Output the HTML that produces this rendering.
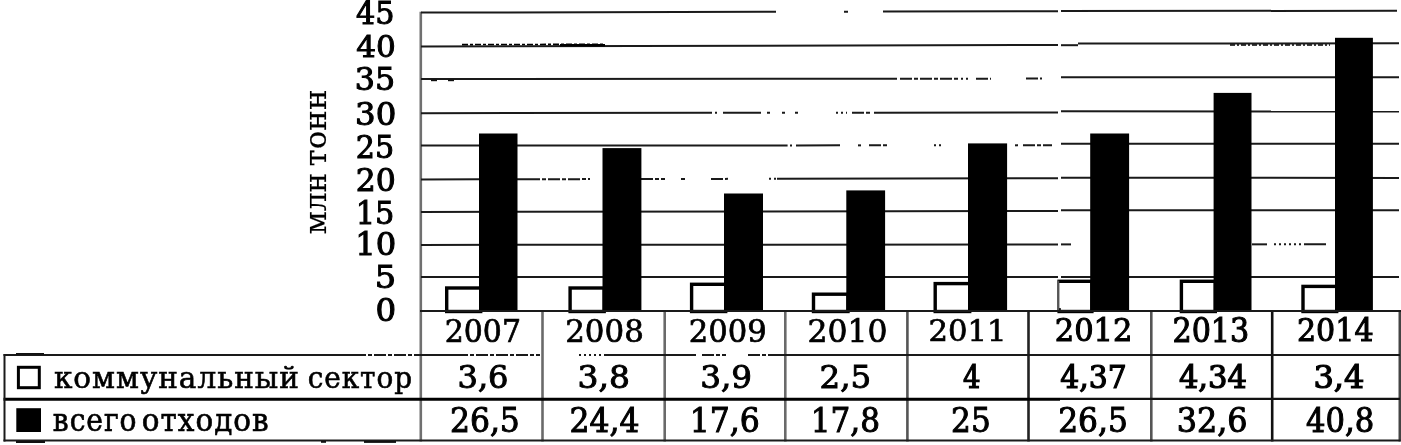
<!DOCTYPE html>
<html><head><meta charset="utf-8"><title>Отходы</title>
<style>
html,body{margin:0;padding:0;background:#fff;}
body{width:1401px;height:445px;overflow:hidden;}
svg{display:block;}
</style></head><body>
<svg width="1401" height="445" viewBox="0 0 1401 445">

<g fill="none" stroke-width="2.6">
<line x1="420.8" y1="11.8" x2="420.8" y2="441.5" stroke="#707070"/>
<line x1="542.5" y1="310" x2="542.5" y2="441.5" stroke="#6a6a6a"/>
<line x1="664.7" y1="310" x2="664.7" y2="441.5" stroke="#6a6a6a"/>
<line x1="785.3" y1="310" x2="785.3" y2="441.5" stroke="#6a6a6a"/>
<line x1="907.4" y1="310" x2="907.4" y2="441.5" stroke="#555"/>
<line x1="1028.5" y1="310" x2="1028.5" y2="441.5" stroke="#222"/>
<line x1="1151.3" y1="310" x2="1151.3" y2="441.5" stroke="#555"/>
<line x1="1272.2" y1="310" x2="1272.2" y2="441.5" stroke="#111"/>
<line x1="1399.8" y1="310" x2="1399.8" y2="441.5" stroke="#444"/>
</g>
<g fill="none">
<line x1="421" y1="12.60" x2="776" y2="11.82" stroke="#1a1a1a" stroke-width="2.0"/>
<line x1="844" y1="11.67" x2="848" y2="11.66" stroke="#1a1a1a" stroke-width="2.0"/>
<line x1="883" y1="11.58" x2="1058" y2="11.20" stroke="#1a1a1a" stroke-width="2.0"/>
<line x1="1061" y1="11.00" x2="1397" y2="10.80" stroke="#1a1a1a" stroke-width="2.0"/>
<line x1="421" y1="46.40" x2="1058" y2="45.00" stroke="#1a1a1a" stroke-width="2.0"/>
<line x1="1078" y1="43.61" x2="1399" y2="43.30" stroke="#1a1a1a" stroke-width="2.0"/>
<line x1="421" y1="79.00" x2="897" y2="78.70" stroke="#1a1a1a" stroke-width="2.0"/>
<line x1="900" y1="78.70" x2="959" y2="78.66" stroke="#1a1a1a" stroke-width="2.0" stroke-dasharray="12 2 4 2"/>
<line x1="961" y1="78.66" x2="968" y2="78.66" stroke="#1a1a1a" stroke-width="2.0" stroke-dasharray="2 3"/>
<line x1="976" y1="78.65" x2="991" y2="78.64" stroke="#1a1a1a" stroke-width="2.0" stroke-dasharray="12 2 4 2"/>
<line x1="1026" y1="78.62" x2="1042" y2="78.61" stroke="#1a1a1a" stroke-width="2.0" stroke-dasharray="12 2 4 2"/>
<line x1="1061" y1="77.30" x2="1399" y2="77.30" stroke="#1a1a1a" stroke-width="2.0"/>
<line x1="421" y1="113.20" x2="712" y2="112.83" stroke="#1a1a1a" stroke-width="2.0"/>
<line x1="715" y1="112.83" x2="717" y2="112.83" stroke="#1a1a1a" stroke-width="2.0"/>
<line x1="723" y1="112.82" x2="761" y2="112.77" stroke="#1a1a1a" stroke-width="2.0"/>
<line x1="767" y1="112.77" x2="770" y2="112.76" stroke="#1a1a1a" stroke-width="2.0"/>
<line x1="782" y1="112.75" x2="785" y2="112.74" stroke="#1a1a1a" stroke-width="2.0"/>
<line x1="795" y1="112.73" x2="798" y2="112.73" stroke="#1a1a1a" stroke-width="2.0"/>
<line x1="836" y1="112.68" x2="847" y2="112.66" stroke="#1a1a1a" stroke-width="2.0" stroke-dasharray="2 3"/>
<line x1="852" y1="112.66" x2="870" y2="112.64" stroke="#1a1a1a" stroke-width="2.0" stroke-dasharray="12 2 4 2"/>
<line x1="874" y1="112.63" x2="1058" y2="112.40" stroke="#1a1a1a" stroke-width="2.0"/>
<line x1="1061" y1="111.30" x2="1399" y2="111.50" stroke="#1a1a1a" stroke-width="2.0"/>
<line x1="421" y1="145.50" x2="787.6" y2="145.38" stroke="#1a1a1a" stroke-width="2.0"/>
<line x1="790" y1="145.38" x2="792" y2="145.38" stroke="#1a1a1a" stroke-width="2.0"/>
<line x1="796" y1="145.38" x2="840" y2="145.37" stroke="#1a1a1a" stroke-width="2.0"/>
<line x1="858" y1="145.36" x2="861" y2="145.36" stroke="#1a1a1a" stroke-width="2.0"/>
<line x1="869" y1="145.36" x2="888" y2="145.35" stroke="#1a1a1a" stroke-width="2.0" stroke-dasharray="12 2 4 2"/>
<line x1="934" y1="145.34" x2="942" y2="145.34" stroke="#1a1a1a" stroke-width="2.0" stroke-dasharray="2 3"/>
<line x1="1015" y1="145.31" x2="1018" y2="145.31" stroke="#1a1a1a" stroke-width="2.0"/>
<line x1="1023" y1="145.31" x2="1052" y2="145.30" stroke="#1a1a1a" stroke-width="2.0" stroke-dasharray="12 2 4 2"/>
<line x1="1061" y1="143.80" x2="1399" y2="143.70" stroke="#1a1a1a" stroke-width="2.0"/>
<line x1="421" y1="179.40" x2="479" y2="179.30" stroke="#1a1a1a" stroke-width="2.0"/>
<line x1="517" y1="179.23" x2="528" y2="179.22" stroke="#1a1a1a" stroke-width="2.0"/>
<line x1="528" y1="179.22" x2="590" y2="179.11" stroke="#1a1a1a" stroke-width="2.0" stroke-dasharray="12 2 4 2"/>
<line x1="641" y1="179.02" x2="665" y2="178.98" stroke="#1a1a1a" stroke-width="2.0" stroke-dasharray="12 2 4 2"/>
<line x1="681" y1="178.95" x2="685" y2="178.94" stroke="#1a1a1a" stroke-width="2.0"/>
<line x1="711" y1="178.90" x2="728" y2="178.87" stroke="#1a1a1a" stroke-width="2.0" stroke-dasharray="12 2 4 2"/>
<line x1="769" y1="178.80" x2="777" y2="178.79" stroke="#1a1a1a" stroke-width="2.0" stroke-dasharray="2 3"/>
<line x1="777" y1="178.79" x2="1058" y2="178.30" stroke="#1a1a1a" stroke-width="2.0"/>
<line x1="1061" y1="177.80" x2="1399" y2="177.90" stroke="#1a1a1a" stroke-width="2.0"/>
<line x1="421" y1="212.00" x2="1058" y2="211.00" stroke="#1a1a1a" stroke-width="2.0"/>
<line x1="1061" y1="210.30" x2="1399" y2="210.20" stroke="#1a1a1a" stroke-width="2.0"/>
<line x1="421" y1="244.90" x2="1058" y2="244.60" stroke="#1a1a1a" stroke-width="2.0"/>
<line x1="1061" y1="244.40" x2="1071" y2="244.40" stroke="#1a1a1a" stroke-width="2.0"/>
<line x1="1252" y1="244.34" x2="1267" y2="244.34" stroke="#1a1a1a" stroke-width="2.0"/>
<line x1="1274" y1="244.34" x2="1304" y2="244.33" stroke="#1a1a1a" stroke-width="2.0" stroke-dasharray="2 3"/>
<line x1="1304" y1="244.33" x2="1326" y2="244.32" stroke="#1a1a1a" stroke-width="2.0"/>
<line x1="421" y1="277.10" x2="1058" y2="277.00" stroke="#1a1a1a" stroke-width="2.0"/>
<line x1="1061" y1="277.00" x2="1399" y2="276.90" stroke="#1a1a1a" stroke-width="2.0"/>
<line x1="462" y1="44.6" x2="605" y2="44.3" stroke="#000" stroke-width="1.6" stroke-dasharray="6 2 3 2"/>
<line x1="560" y1="45.2" x2="605" y2="45.2" stroke="#000" stroke-width="2.6"/>
<line x1="1230" y1="45.0" x2="1330" y2="45.0" stroke="#000" stroke-width="1.4" stroke-dasharray="5 2 2 2"/>
<line x1="1061" y1="45.2" x2="1078" y2="45.2" stroke="#1a1a1a" stroke-width="2"/>
</g>
<g>
<rect x="446.7" y="288.0" width="34.0" height="23.5" fill="#fff" stroke="#000" stroke-width="3.4"/>
<rect x="479.0" y="133.5" width="38.5" height="178.0" fill="#000"/>
<rect x="570.1" y="288.0" width="34.1" height="23.5" fill="#fff" stroke="#000" stroke-width="3.4"/>
<rect x="602.5" y="148.1" width="38.9" height="163.4" fill="#000"/>
<rect x="691.6" y="284.3" width="34.1" height="27.2" fill="#fff" stroke="#000" stroke-width="3.4"/>
<rect x="724.0" y="193.5" width="39.0" height="118.0" fill="#000"/>
<rect x="813.5" y="294.2" width="34.5" height="17.3" fill="#fff" stroke="#000" stroke-width="3.4"/>
<rect x="846.3" y="190.4" width="38.8" height="121.1" fill="#000"/>
<rect x="935.2" y="283.6" width="34.5" height="27.9" fill="#fff" stroke="#000" stroke-width="3.4"/>
<rect x="968.0" y="143.4" width="39.1" height="168.1" fill="#000"/>
<rect x="1059.1" y="281.3" width="32.8" height="30.2" fill="#fff" stroke="#000" stroke-width="3.4"/>
<rect x="1059.2" y="283.0" width="2" height="25.1" fill="#fff"/>
<line x1="1058.3" y1="280.6" x2="1058.3" y2="311" stroke="#555" stroke-width="1.8"/>
<rect x="1090.2" y="133.5" width="38.9" height="178.0" fill="#000"/>
<rect x="1181.4" y="281.3" width="33.9" height="30.2" fill="#fff" stroke="#000" stroke-width="3.4"/>
<rect x="1213.6" y="92.9" width="37.9" height="218.6" fill="#000"/>
<rect x="1303.0" y="286.4" width="33.7" height="25.1" fill="#fff" stroke="#000" stroke-width="3.4"/>
<rect x="1335.0" y="37.8" width="37.9" height="273.7" fill="#000"/>
</g>
<g fill="none" stroke="#1a1a1a">
<line x1="420" y1="311" x2="1401" y2="311" stroke-width="2"/>
<line x1="3.5" y1="355" x2="354" y2="355" stroke-width="2"/>
<line x1="354" y1="355" x2="420" y2="355" stroke-width="2" stroke-dasharray="12 2 4 2"/>
<line x1="420" y1="355" x2="456" y2="355" stroke-width="2"/>
<line x1="456" y1="355" x2="540" y2="355" stroke-width="2" stroke-dasharray="12 2 4 2"/>
<line x1="579" y1="355" x2="605" y2="355" stroke-width="2" stroke-dasharray="2 3"/>
<line x1="605" y1="355" x2="696" y2="355" stroke-width="2"/>
<line x1="702" y1="355" x2="726" y2="355" stroke-width="2" stroke-dasharray="12 2 4 2"/>
<line x1="748" y1="355" x2="771" y2="355" stroke-width="2" stroke-dasharray="12 2 4 2"/>
<line x1="771" y1="355" x2="1400" y2="355" stroke-width="2"/>
<line x1="3.5" y1="399.3" x2="1060" y2="399.3" stroke-width="3" stroke="#000"/>
<line x1="1060" y1="398.8" x2="1400" y2="398.8" stroke-width="2.2" stroke="#111"/>
<line x1="3.5" y1="440.5" x2="1400.5" y2="440.5" stroke-width="2"/>
<line x1="4.5" y1="354" x2="4.5" y2="441.5" stroke-width="2"/>
</g>
<g fill="#111">
<rect x="16" y="441.0" width="29" height="2.0"/>
<rect x="16" y="353.0" width="28" height="1.4"/>
<rect x="321" y="441.0" width="5" height="1.8"/>
<rect x="364" y="441.0" width="32" height="1.9"/>
<rect x="431" y="79.6" width="6" height="1.6"/>
<rect x="448" y="79.6" width="6" height="1.6"/>
</g>
<rect x="18.4" y="367.3" width="20.9" height="20.4" fill="#fff" stroke="#000" stroke-width="3.0"/>
<rect x="16.3" y="408.2" width="24.7" height="23.8" fill="#000"/>
<g font-family='"DejaVu Serif Condensed","DejaVu Serif","Liberation Serif",serif' font-size="33" stroke="#000" stroke-width="1.0" fill="#000">
<text transform="matrix(1.0194 0 0 0.9320 356.10 24.30)">45</text>
<text transform="matrix(1.0472 0 0 0.9120 356.30 57.20)">40</text>
<text transform="matrix(1.0676 0 0 0.9440 354.86 90.30)">35</text>
<text transform="matrix(1.0912 0 0 0.9680 355.12 125.10)">30</text>
<text transform="matrix(1.0176 0 0 0.9720 355.86 158.00)">25</text>
<text transform="matrix(1.0618 0 0 0.9760 355.78 191.10)">20</text>
<text transform="matrix(1.0242 0 0 0.9440 355.63 224.10)">15</text>
<text transform="matrix(1.0848 0 0 0.9440 355.25 255.10)">10</text>
<text transform="matrix(1.1333 0 0 0.9400 374.73 287.90)">5</text>
<text transform="matrix(1.0938 0 0 0.9360 375.41 321.20)">0</text>
<text transform="matrix(1.0296 0 0 0.9760 1054.74 341.30)">2012</text>
<text transform="matrix(1.0167 0 0 0.9880 1172.47 341.60)">2013</text>
<text transform="matrix(1.0137 0 0 0.9760 1296.97 341.30)">2014</text>
</g>
<g font-family='"DejaVu Serif Condensed","DejaVu Serif","Liberation Serif",serif' font-size="33" stroke="#000" stroke-width="0.7" fill="#000">
<text transform="matrix(1.0083 0 0 0.9560 444.78 342.00)">2007</text>
<text transform="matrix(1.0403 0 0 0.9560 565.22 342.00)">2008</text>
<text transform="matrix(1.0319 0 0 0.9560 688.74 342.00)">2009</text>
<text transform="matrix(1.0597 0 0 0.9560 807.38 342.00)">2010</text>
<text transform="matrix(1.0329 0 0 0.9280 928.43 341.30)">2011</text>
</g>
<g font-family='"DejaVu Serif Condensed","DejaVu Serif","Liberation Serif",serif' font-size="33" stroke="#000" stroke-width="0.9" fill="#000">
<text transform="matrix(1.0795 0 0 0.9760 457.54 388.20)">3,6</text>
<text transform="matrix(1.1091 0 0 0.9760 577.58 388.20)">3,8</text>
<text transform="matrix(1.0977 0 0 0.9760 700.20 388.20)">3,9</text>
<text transform="matrix(1.0953 0 0 0.9760 819.51 388.20)">2,5</text>
<text transform="matrix(1.0597 0 0 0.9960 449.88 432.20)">26,5</text>
<text transform="matrix(1.0587 0 0 0.9960 569.48 432.20)">24,4</text>
<text transform="matrix(1.0613 0 0 0.9960 689.72 432.20)">17,6</text>
<text transform="matrix(1.0484 0 0 0.9960 810.75 432.20)">17,8</text>
<text transform="matrix(1.0500 0 0 0.9960 951.10 432.20)">25</text>
</g>
<g font-family='"DejaVu Serif Condensed","DejaVu Serif","Liberation Serif",serif' font-size="33" stroke="#000" stroke-width="1.15" fill="#000">
<text transform="matrix(0.9278 0 0 0.9760 963.10 388.20)">4</text>
<text transform="matrix(1.0046 0 0 0.9760 1060.30 388.20)">4,37</text>
<text transform="matrix(1.0308 0 0 0.9760 1178.90 388.20)">4,34</text>
<text transform="matrix(1.0795 0 0 0.9760 1313.44 388.20)">3,4</text>
</g>
<g font-family='"DejaVu Serif Condensed","DejaVu Serif","Liberation Serif",serif' font-size="33" stroke="#000" stroke-width="0.95" fill="#000">
<text transform="matrix(1.0532 0 0 0.9960 1058.19 432.20)">26,5</text>
<text transform="matrix(1.0714 0 0 0.9960 1176.76 432.20)">32,6</text>
<text transform="matrix(1.0308 0 0 0.9960 1306.00 432.20)">40,8</text>
</g>
<g font-family='"DejaVu Serif","Liberation Serif",serif' font-size="30" letter-spacing="1.0" stroke="#000" stroke-width="0.6" fill="#000">
<text transform="matrix(0.9834 0 0 0.9937 53.92 387.70)">коммунальный</text>
<text transform="matrix(0.9300 0 0 0.9937 307.77 387.70)">сектор</text>
<text transform="matrix(0.9379 0 0 1.0250 52.86 431.00)">всего</text>
<text transform="matrix(0.9827 0 0 1.0250 141.82 431.00)">отходов</text>
</g>
<g font-family='"DejaVu Serif","Liberation Serif",serif' font-size="30" stroke="#000" stroke-width="0.15" fill="#000">
<text transform="matrix(0 -0.9850 0.9937 0 326.0 234.29)">млн</text>
<text transform="matrix(0 -1.0306 0.9937 0 326.0 166.43)">тонн</text>
</g>
</svg></body></html>
